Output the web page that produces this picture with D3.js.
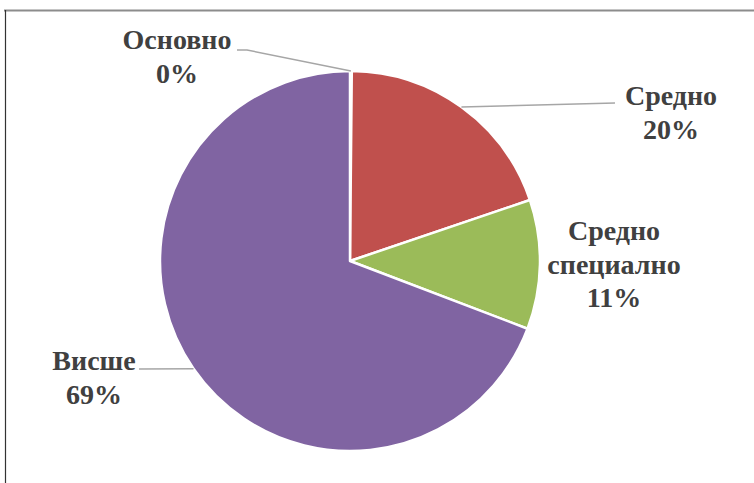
<!DOCTYPE html>
<html><head><meta charset="utf-8">
<script src="https://cdn.jsdelivr.net/npm/d3@7"></script>
<style>body{margin:0;background:#fff}svg{display:block}</style>
</head><body>
<svg id="c" width="754" height="483"></svg>
<script>
const categories = ["Основно", "Средно", "Средно специално", "Висше"];
const values = [0.15, 19.65, 11.0, 69.2];
const percentLabels = ["0%", "20%", "11%", "69%"];
const labelLines = [["Основно"], ["Средно"], ["Средно", "специално"], ["Висше"]];
const colors = ["#4F81BD", "#C0504D", "#9BBB59", "#8064A2"];

// layout (positions of label blocks: center x, first baseline; leader end points)
const layout = [
  {x: 177, y: 49, leader: [[237, 50], [247, 50]]},
  {x: 671, y: 105, leader: [[615, 103]]},
  {x: 614, y: 240, leader: null},
  {x: 94, y: 370, leader: [[139, 369]]}
];

const svg = d3.select("#c");
const cx = 350, cy = 261, R = 190;

// frame
svg.append("line").attr("x1", 4).attr("x2", 754).attr("y1", 10.5).attr("y2", 10.5)
  .attr("stroke", "#8c8c8c").attr("stroke-width", 2);
svg.append("line").attr("x1", 5.5).attr("x2", 5.5).attr("y1", 10).attr("y2", 483)
  .attr("stroke", "#333").attr("stroke-width", 1.2);

const pie = d3.pie().sort(null).value(d => d)(values);
const arc = d3.arc().innerRadius(0).outerRadius(R);
const g = svg.append("g").attr("transform", `translate(${cx},${cy})`);
g.selectAll("path").data(pie).join("path")
  .attr("d", arc)
  .attr("fill", (d, i) => colors[i])
  .attr("stroke", "#fff").attr("stroke-width", 2.5).attr("stroke-linejoin", "round");

// leaders
pie.forEach((d, i) => {
  const L = layout[i];
  if (!L.leader) return;
  const a = (d.startAngle + d.endAngle) / 2;
  const p = [cx + R * Math.sin(a), cy - R * Math.cos(a)];
  const pts = L.leader.concat([p]);
  svg.append("path").attr("d", d3.line()(pts))
    .attr("fill", "none").attr("stroke", "#a6a6a6").attr("stroke-width", 1.5);
});

// labels (one text element per line)
const lh = 33.5;
pie.forEach((d, i) => {
  const L = layout[i];
  const lines = labelLines[i].concat([percentLabels[i]]);
  lines.forEach((s, k) => {
    svg.append("text")
      .attr("x", L.x).attr("y", L.y + k * lh)
      .style("text-anchor", "middle")
      .style("font-family", '"Liberation Serif"').style("font-weight", "bold")
      .style("font-size", "28px").style("fill", "#404040")
      .text(s);
  });
});
</script>
</body></html>
